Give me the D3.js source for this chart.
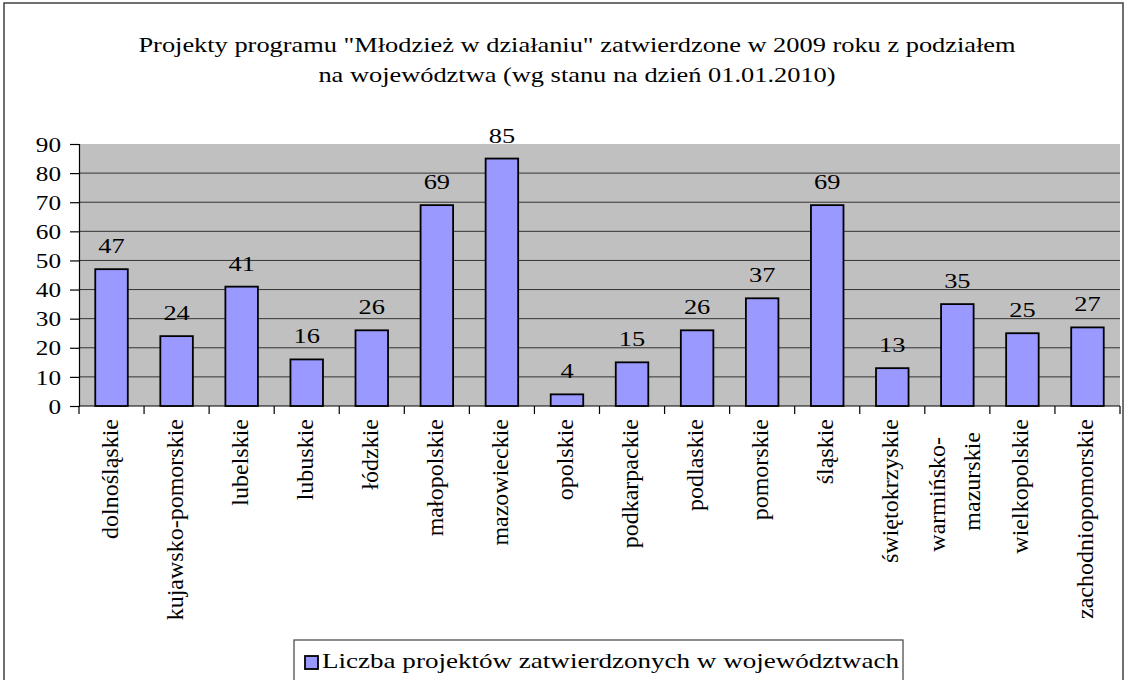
<!DOCTYPE html>
<html>
<head>
<meta charset="utf-8">
<script src="https://cdn.jsdelivr.net/npm/d3@7"></script>
<style>
  body { margin: 0; background: #fff; }
  text { font-family: "Liberation Serif", "Times New Roman", serif; fill: #000; }
</style>
</head>
<body>
<svg id="chart" width="1128" height="680"></svg>
<script>
var regions = ["dolnośląskie", "kujawsko-pomorskie", "lubelskie", "lubuskie", "łódzkie",
  "małopolskie", "mazowieckie", "opolskie", "podkarpackie", "podlaskie", "pomorskie",
  "śląskie", "świętokrzyskie", "warmińsko-mazurskie", "wielkopolskie", "zachodniopomorskie"];
var projects = [47, 24, 41, 16, 26, 69, 85, 4, 15, 26, 37, 69, 13, 35, 25, 27];
var yTicks = [0, 10, 20, 30, 40, 50, 60, 70, 80, 90];
var titleLines = ["Projekty programu \"Młodzież w działaniu\" zatwierdzone w 2009 roku z podziałem",
  "na województwa (wg stanu na dzień 01.01.2010)"];
var legendLabel = "Liczba projektów zatwierdzonych w województwach";

var svg = d3.select("#chart");
var plotLeft = 79, plotRight = 1120, plotTop = 144, plotBottom = 406;
var sx = 1.2; // the picture looks a little stretched sideways

// outer frame
svg.append("rect")
  .attr("x", 4).attr("y", 3)
  .attr("width", 1119).attr("height", 720)
  .attr("fill", "none").attr("stroke", "#404040").attr("stroke-width", 1.5);

// title
svg.selectAll(".title")
  .data(titleLines)
  .enter()
  .append("text")
  .attr("class", "title")
  .attr("transform", (d, i) => `translate(577, ${52 + i * 30}) scale(${sx}, 1)`)
  .style("text-anchor", "middle")
  .style("font-size", "22px")
  .text((d) => d);

var x = d3.scaleBand()
  .domain(regions)
  .range([plotLeft, plotRight])
  .paddingInner(0.5)
  .paddingOuter(0.25);

var y = d3.scaleLinear()
  .domain([0, 90])
  .range([plotBottom, plotTop]);

// plot background
svg.append("rect")
  .attr("x", plotLeft).attr("y", plotTop)
  .attr("width", plotRight - plotLeft).attr("height", plotBottom - plotTop)
  .attr("fill", "#c0c0c0");

// gridlines
svg.append("g")
  .selectAll("line")
  .data(yTicks.filter((d) => d > 0 && d < 90))
  .enter()
  .append("line")
  .attr("x1", plotLeft).attr("x2", plotRight)
  .attr("y1", (d) => y(d)).attr("y2", (d) => y(d))
  .attr("stroke", "#333").attr("stroke-width", 1);

// y axis
var yAxis = svg.append("g")
  .attr("transform", `translate(${plotLeft}, 0)`)
  .call(d3.axisLeft(y).tickValues(yTicks).tickSize(9).tickFormat(d3.format("d")));
yAxis.select(".domain").attr("stroke", "#000").attr("stroke-width", 1.2);
yAxis.selectAll(".tick line").attr("stroke", "#000").attr("stroke-width", 1.2);
yAxis.selectAll(".tick text")
  .attr("x", null)
  .attr("transform", `translate(-18, 0) scale(${sx}, 1)`)
  .attr("dy", "0.34em")
  .attr("font-size", null)
  .attr("font-family", null)
  .style("font-size", "21px");

// x axis line and category ticks
var step = x.step();
svg.append("line")
  .attr("x1", plotLeft).attr("x2", plotRight)
  .attr("y1", plotBottom).attr("y2", plotBottom)
  .attr("stroke", "#000").attr("stroke-width", 1.2);
svg.append("g")
  .selectAll("line")
  .data(d3.range(regions.length + 1))
  .enter()
  .append("line")
  .attr("x1", (i) => plotLeft + i * step).attr("x2", (i) => plotLeft + i * step)
  .attr("y1", plotBottom).attr("y2", plotBottom + 8)
  .attr("stroke", "#000").attr("stroke-width", 1.2);

// bars
svg.append("g")
  .selectAll("rect")
  .data(projects)
  .enter()
  .append("rect")
  .attr("x", (d, i) => x(regions[i]))
  .attr("y", (d) => y(d))
  .attr("width", x.bandwidth())
  .attr("height", (d) => y(0) - y(d))
  .attr("fill", "#9999ff")
  .attr("stroke", "#000")
  .attr("stroke-width", 1.8);

// value labels
svg.append("g")
  .selectAll("text")
  .data(projects)
  .enter()
  .append("text")
  .attr("transform", (d, i) => `translate(${x(regions[i]) + x.bandwidth() / 2}, ${y(d) - 16}) scale(${sx}, 1)`)
  .style("text-anchor", "middle")
  .style("font-size", "22px")
  .text((d) => d);

// category labels, rotated; the long one wraps after the hyphen
var catG = svg.append("g");
regions.forEach(function (name, i) {
  var cx = x(name) + x.bandwidth() / 2;
  var parts = name === "warmińsko-mazurskie" ? ["warmińsko-", "mazurskie"] : [name];
  if (parts.length === 1) {
    catG.append("text")
      .attr("transform", `translate(${cx + 6}, 419) rotate(-90)`)
      .style("text-anchor", "end")
      .style("font-size", "24px")
      .text(name);
  } else {
    parts.forEach(function (p, j) {
      catG.append("text")
        .attr("transform", `translate(${cx - 12 + j * 35}, ${j === 0 ? 437 : 432}) rotate(-90)`)
        .style("text-anchor", "end")
        .style("font-size", "24px")
        .text(p);
    });
  }
});

// legend
var legend = svg.append("g");
legend.append("rect")
  .attr("x", 294).attr("y", 640)
  .attr("width", 609).attr("height", 60)
  .attr("fill", "#fff").attr("stroke", "#404040").attr("stroke-width", 1.2);
legend.append("rect")
  .attr("x", 305).attr("y", 656)
  .attr("width", 13).attr("height", 13)
  .attr("fill", "#9999ff").attr("stroke", "#000").attr("stroke-width", 1.8);
legend.append("text")
  .attr("transform", `translate(322, 668) scale(1.23, 1)`)
  .style("font-size", "22px")
  .text(legendLabel);
</script>
</body>
</html>
